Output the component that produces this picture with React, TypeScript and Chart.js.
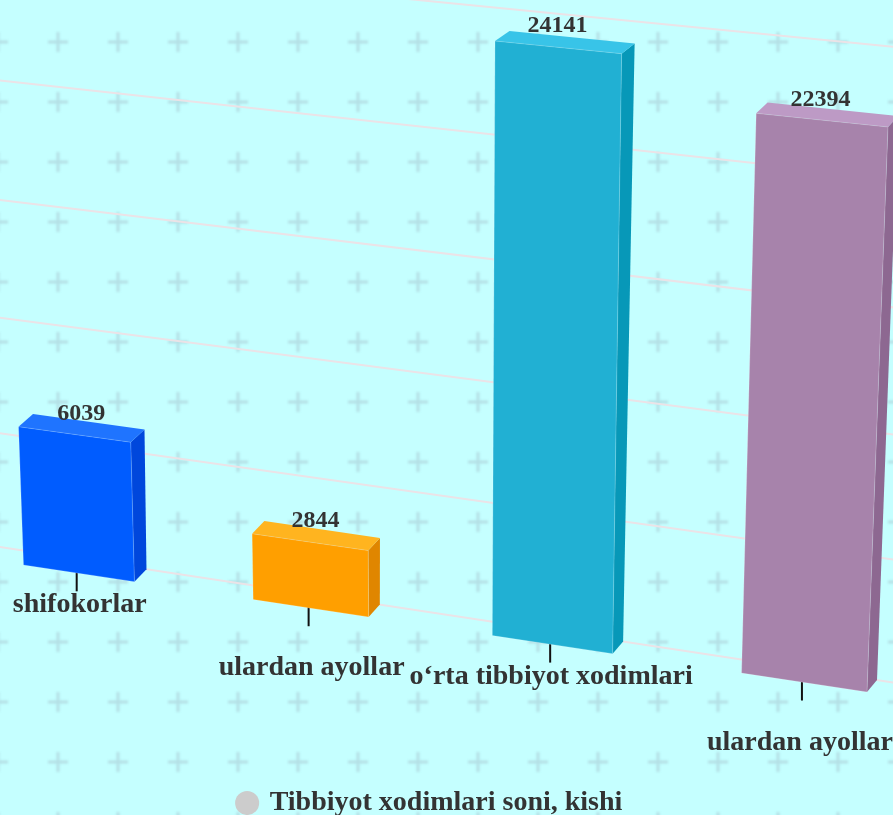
import React, { useEffect, useRef } from "react";
import { Chart, registerables } from "chart.js";

Chart.register(...registerables);

const categories = ["shifokorlar", "ulardan ayollar", "o‘rta tibbiyot xodimlari", "ulardan ayollar"];
const seriesName = "Tibbiyot xodimlari soni, kishi";
const seriesValues = [6039, 2844, 24141, 22394];
const frontColors = ["#005cff", "#ff9f00", "#21b0d3", "#a783ab"];
const topColors = ["#1f74ff", "#ffb41f", "#38c4e8", "#bd9ac5"];
const sideColors = ["#0047dc", "#e08600", "#0798b8", "#8d6891"];

const FONT = '"Liberation Serif"';
const BG = "#c5ffff";
const PLUS = "#b4e0e5";
const GRID = "#ebe3e7";
const TEXT = "#333333";

// Camera: where the front and back planes of the flat plot land on the page.
const frontPlane = [[23.5, 565], [867, 692], [495, 41], [888, 127]];
const backPlane = [[33, 414], [877, 680], [509.5, 31], [898, 116]];
// Small placement corrections for the text on the projected boxes.
const valueLabelNudge = [[0, 0], [2, -1], [-2, -2], [0, -1]];
const categoryLabelNudge = [1, 1, -1, -4];

type Pt = [number, number];

function solveHomography(src: number[][], dst: number[][]) {
  const m: number[][] = [];
  for (let i = 0; i < 4; i++) {
    const [x, y] = src[i];
    const [u, v] = dst[i];
    m.push([x, y, 1, 0, 0, 0, -u * x, -u * y, u]);
    m.push([0, 0, 0, x, y, 1, -v * x, -v * y, v]);
  }
  for (let c = 0; c < 8; c++) {
    let p = c;
    for (let r = c + 1; r < 8; r++) if (Math.abs(m[r][c]) > Math.abs(m[p][c])) p = r;
    [m[c], m[p]] = [m[p], m[c]];
    for (let r = 0; r < 8; r++) {
      if (r === c) continue;
      const f = m[r][c] / m[c][c];
      for (let k = c; k < 9; k++) m[r][k] -= f * m[c][k];
    }
  }
  const h = m.map((row, i) => row[8] / row[i]);
  return (x: number, y: number): Pt => {
    const w = h[6] * x + h[7] * y + 1;
    return [(h[0] * x + h[1] * y + h[2]) / w, (h[3] * x + h[4] * y + h[5]) / w];
  };
}

function poly(ctx: CanvasRenderingContext2D, pts: Pt[], fill: string) {
  ctx.beginPath();
  pts.forEach((p, i) => (i ? ctx.lineTo(p[0], p[1]) : ctx.moveTo(p[0], p[1])));
  ctx.closePath();
  ctx.fillStyle = fill;
  ctx.fill();
}

const scene3d = {
  id: "scene3d",
  beforeDraw(chart: any) {
    const ctx: CanvasRenderingContext2D = chart.ctx;
    ctx.save();
    ctx.fillStyle = BG;
    ctx.fillRect(0, 0, chart.width, chart.height);
    (ctx as any).filter = "blur(0.8px)";
    ctx.fillStyle = PLUS;
    for (let x = -2; x < chart.width + 20; x += 60) {
      for (let y = 42 - 60; y < chart.height + 20; y += 60) {
        ctx.fillRect(x - 10, y - 1.5, 20, 3);
        ctx.fillRect(x - 1.5, y - 10, 3, 20);
      }
    }
    ctx.restore();
  },
  beforeDatasetsDraw(chart: any) {
    const ctx: CanvasRenderingContext2D = chart.ctx;
    const bars = chart.getDatasetMeta(0).data;
    const xs = chart.scales.x;
    const ys = chart.scales.y;
    const L = (b: any) => b.x - b.width / 2;
    const R = (b: any) => b.x + b.width / 2;
    const src = [
      [L(bars[0]), bars[0].base],
      [R(bars[3]), bars[3].base],
      [L(bars[2]), bars[2].y],
      [R(bars[3]), bars[3].y],
    ];
    const srcBack = [[L(bars[0]), bars[0].y], src[1], src[2], src[3]];
    const front = solveHomography(src, frontPlane);
    const back = solveHomography(srcBack, backPlane);

    ctx.save();
    // back-wall grid
    ctx.strokeStyle = GRID;
    ctx.lineWidth = 2;
    ys.ticks.forEach((t: any) => {
      const y = ys.getPixelForValue(t.value);
      const a = back(xs.left, y);
      const b = back(xs.right, y);
      ctx.beginPath();
      ctx.moveTo(a[0], a[1]);
      ctx.lineTo(b[0], b[1]);
      ctx.stroke();
    });

    // tick marks
    ctx.strokeStyle = "#111111";
    ctx.lineWidth = 2;
    bars.forEach((b: any) => {
      const p = front(b.x, b.base);
      ctx.beginPath();
      ctx.moveTo(p[0] - 2, p[1] - 4);
      ctx.lineTo(p[0] - 2, p[1] + 18);
      ctx.stroke();
    });

    // boxes
    bars.forEach((b: any, i: number) => {
      const fTL = front(L(b), b.y);
      const fTR = front(R(b), b.y);
      const fBR = front(R(b), b.base);
      const fBL = front(L(b), b.base);
      const bTL = back(L(b), b.y);
      const bTR = back(R(b), b.y);
      const bBR = back(R(b), b.base);
      poly(ctx, [fTR, fBR, bBR, bTR], sideColors[i]);
      poly(ctx, [fTL, fTR, bTR, bTL], topColors[i]);
      poly(ctx, [fTL, fTR, fBR, fBL], frontColors[i]);
      ctx.strokeStyle = "rgba(255,255,255,0.2)";
      ctx.lineWidth = 1;
      ctx.beginPath();
      ctx.moveTo(fBL[0], fBL[1]);
      ctx.lineTo(fTL[0], fTL[1]);
      ctx.lineTo(fTR[0], fTR[1]);
      ctx.lineTo(fBR[0], fBR[1]);
      ctx.lineTo(fBL[0], fBL[1]);
      ctx.stroke();
    });

    // value labels and category labels
    ctx.fillStyle = TEXT;
    ctx.textAlign = "center";
    ctx.textBaseline = "alphabetic";
    bars.forEach((b: any, i: number) => {
      const f = front(b.x, b.y);
      const k = back(b.x, b.y);
      const t = 0.55 - 0.0008 * f[0];
      const lx = f[0] + (k[0] - f[0]) * t + valueLabelNudge[i][0];
      const ly = (f[1] + k[1]) / 2 - 8 + valueLabelNudge[i][1];
      ctx.font = `bold 24px ${FONT}`;
      ctx.fillText(chart.data.datasets[0].data[i].toString(), lx, ly);

      const p = front(b.x, b.base);
      ctx.font = `bold 28px ${FONT}`;
      ctx.fillText(chart.data.labels[i], p[0] + categoryLabelNudge[i], p[1] + (i % 2 ? 67 : 39));
    });
    ctx.restore();
    return false;
  },
};

export default function App() {
  const ref = useRef<HTMLCanvasElement>(null);
  useEffect(() => {
    if (!ref.current) return;
    const chart = new Chart(ref.current, {
      type: "bar",
      data: {
        labels: categories,
        datasets: [
          {
            label: seriesName,
            data: seriesValues,
            backgroundColor: frontColors,
            barPercentage: 0.61,
            categoryPercentage: 0.8,
          },
        ],
      },
      options: {
        animation: false,
        responsive: false,
        layout: { padding: { right: 32, left: 0, top: 0, bottom: -12 } },
        scales: {
          x: { display: false },
          y: { display: false, min: 0, max: 25000, ticks: { stepSize: 5000 } },
        },
        plugins: {
          tooltip: { enabled: false },
          legend: {
            position: "bottom",
            labels: {
              usePointStyle: true,
              boxWidth: 17,
              boxHeight: 17,
              padding: 4,
              color: TEXT,
              font: { family: FONT, weight: "bold", size: 28 },
              generateLabels: () => [
                {
                  text: seriesName,
                  fillStyle: "#cccccc",
                  strokeStyle: "#cccccc",
                  fontColor: TEXT,
                  lineWidth: 0,
                  pointStyle: "circle",
                  hidden: false,
                  datasetIndex: 0,
                },
              ],
            },
          },
        },
      },
      plugins: [scene3d],
    } as any);
    return () => chart.destroy();
  }, []);
  return (
    <div style={{ position: "fixed", left: 0, top: 0, width: 893, height: 815 }}>
      <canvas ref={ref} width={893} height={815} style={{ display: "block" }} />
    </div>
  );
}
